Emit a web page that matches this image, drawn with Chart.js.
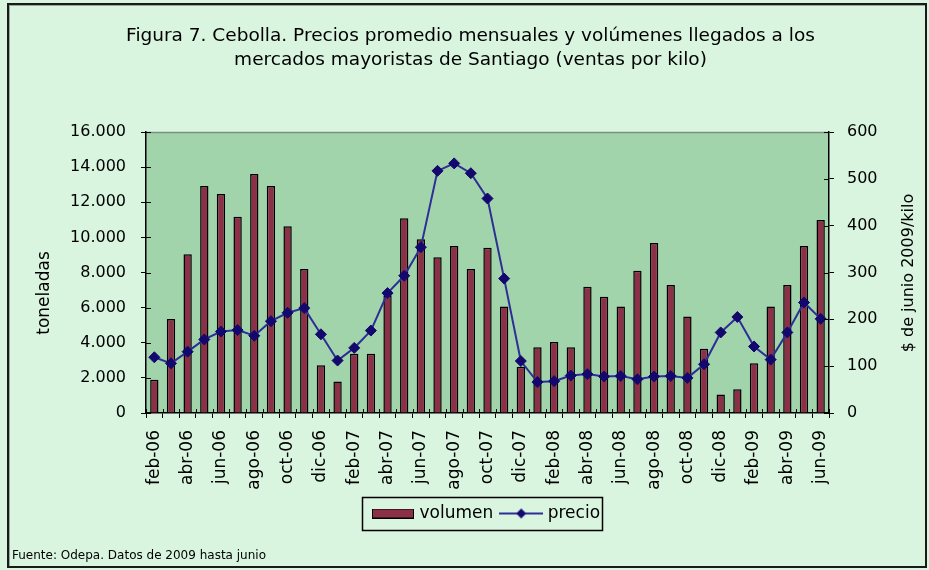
<!DOCTYPE html>
<html>
<head>
<meta charset="utf-8">
<script src="https://cdn.jsdelivr.net/npm/chart.js@4/dist/chart.umd.min.js"></script>
<style>
html,body{margin:0;padding:0;background:#D9F5DF;}
#wrap{width:929px;height:570px;position:relative;}
</style>
</head>
<body>
<div id="wrap"><canvas id="c" width="929" height="570"></canvas></div>
<script>
// ---- data ----
const months = ['feb-06','mar-06','abr-06','may-06','jun-06','jul-06','ago-06','sep-06','oct-06','nov-06','dic-06',
  'ene-07','feb-07','mar-07','abr-07','may-07','jun-07','jul-07','ago-07','sep-07','oct-07','nov-07','dic-07',
  'ene-08','feb-08','mar-08','abr-08','may-08','jun-08','jul-08','ago-08','sep-08','oct-08','nov-08','dic-08',
  'ene-09','feb-09','mar-09','abr-09','may-09','jun-09'];
const volumen = [1900, 5350, 9040, 12930, 12470, 11180, 13610, 12930, 10630, 8200, 2720,
  1800, 3380, 3380, 6700, 11090, 9890, 8870, 9510, 8200, 9410, 6070, 2640,
  3740, 4040, 3740, 7190, 6620, 6070, 8100, 9680, 7290, 5500, 3660, 1060,
  1350, 2830, 6070, 7290, 9510, 10990];
const precio = [119, 106, 131, 157, 174, 177, 165, 196, 214, 224, 168,
  112, 139, 176, 256, 293, 354, 517, 533, 512, 458, 287, 111,
  66, 68, 80, 83, 78, 79, 72, 78, 79, 75, 104, 172,
  205, 142, 114, 172, 236, 201];
const seriesNames = ['volumen', 'precio'];
const titleLines = ['Figura 7. Cebolla. Precios promedio mensuales y volúmenes llegados a los',
  'mercados mayoristas de Santiago (ventas por kilo)'];
const leftTitle = 'toneladas';
const rightTitle = '$ de junio 2009/kilo';
const footer = 'Fuente: Odepa. Datos de 2009 hasta junio';

// ---- styles ----
const BG = '#D9F5DF';
const PLOT = '#A1D4AA';
const BAR = '#8B3046';
const LINE = '#2E2E96';
const MARK = '#14086E';
const FONT = 'DejaVu Sans';

function fmt(v){ return String(v).replace(/\B(?=(\d{3})+(?!\d))/g, '.'); }

function barSample(){
  const c = document.createElement('canvas'); c.width = 42; c.height = 10;
  const x = c.getContext('2d');
  x.fillStyle = BAR; x.fillRect(0.5, 0.5, 41, 9);
  x.strokeStyle = '#000'; x.lineWidth = 1; x.strokeRect(0.5, 0.5, 41, 9);
  return c;
}
function lineSample(){
  const c = document.createElement('canvas'); c.width = 44; c.height = 12;
  const x = c.getContext('2d');
  x.strokeStyle = LINE; x.lineWidth = 2;
  x.beginPath(); x.moveTo(0, 6); x.lineTo(44, 6); x.stroke();
  x.fillStyle = MARK; x.beginPath();
  x.moveTo(22, 1); x.lineTo(27, 6); x.lineTo(22, 11); x.lineTo(17, 6); x.closePath(); x.fill();
  return c;
}
const imgBar = barSample();
const imgLine = lineSample();

const decor = {
  id: 'decor',
  beforeDraw(chart){
    const {ctx, chartArea: a} = chart;
    ctx.save();
    ctx.fillStyle = BG; ctx.fillRect(0, 0, chart.width, chart.height);
    ctx.fillStyle = PLOT; ctx.fillRect(a.left, a.top, a.right - a.left, a.bottom - a.top);
    ctx.strokeStyle = '#7d8f80'; ctx.lineWidth = 1.5;
    ctx.beginPath(); ctx.moveTo(a.left, a.top + 0.5); ctx.lineTo(a.right, a.top + 0.5); ctx.stroke();
    ctx.restore();
  },
  afterLayout(chart){
    const lg = chart.legend, a = chart.chartArea;
    if (!lg) return;
    const d = (a.left + a.right) / 2 - (lg.left + lg.right) / 2;
    lg.left += d; lg.right += d;
  },
  afterDraw(chart){
    const {ctx, chartArea: a} = chart;
    const xs = chart.scales.x, yl = chart.scales.y, yr = chart.scales.y1;
    ctx.save();
    // inner halves of tick marks (ticks cross the axes)
    ctx.strokeStyle = '#000'; ctx.lineWidth = 1;
    ctx.beginPath();
    yl.ticks.forEach(t => { const y = Math.round(yl.getPixelForValue(t.value)) + 0.5; ctx.moveTo(a.left, y); ctx.lineTo(a.left + 5, y); });
    yr.ticks.forEach(t => { const y = Math.round(yr.getPixelForValue(t.value)) + 0.5; ctx.moveTo(a.right - 5, y); ctx.lineTo(a.right, y); });
    for (let i = 0; i <= months.length; i++) {
      const x = Math.round(xs.getPixelForValue(i - 0.5)) + 0.5;
      ctx.moveTo(x, a.bottom - 4); ctx.lineTo(x, a.bottom);
    }
    ctx.stroke();
    // axis titles
    ctx.fillStyle = '#000'; ctx.textAlign = 'center'; ctx.textBaseline = 'middle';
    ctx.font = '17px "' + FONT + '"';
    ctx.save(); ctx.translate(45, 293); ctx.rotate(-Math.PI / 2); ctx.fillText(leftTitle, 0, 0); ctx.restore();
    ctx.font = '16px "' + FONT + '"';
    ctx.save(); ctx.translate(909, 273); ctx.rotate(-Math.PI / 2); ctx.fillText(rightTitle, 0, 0); ctx.restore();
    // legend frame
    const hb = chart.legend && chart.legend.legendHitBoxes;
    if (hb && hb.length) {
      const l = Math.min(...hb.map(h => h.left)) - 13;
      const r = Math.max(...hb.map(h => h.left + h.width)) + 2;
      const cy = hb[0].top + hb[0].height / 2;
      ctx.strokeStyle = '#000'; ctx.lineWidth = 1.5;
      ctx.strokeRect(Math.round(l) + 0.5, Math.round(cy - 16.5) + 0.5, Math.round(r - l), 33);
    }
    // outer frame
    ctx.strokeStyle = '#9aa79c'; ctx.lineWidth = 1;
    ctx.strokeRect(9.5, 5.5, 916, 561);
    ctx.strokeStyle = '#1a1a1a'; ctx.lineWidth = 2;
    ctx.strokeRect(8, 4, 918, 563);
    ctx.restore();
  }
};

new Chart(document.getElementById('c'), {
  type: 'bar',
  data: {
    labels: months,
    datasets: [
      {
        type: 'line', label: seriesNames[1], data: precio, yAxisID: 'y1', order: 0,
        borderColor: LINE, borderWidth: 2, tension: 0, fill: false,
        pointStyle: 'rectRot', pointRadius: 5.5, pointHoverRadius: 5.5,
        pointBackgroundColor: MARK, pointBorderColor: MARK, pointBorderWidth: 1
      },
      {
        type: 'bar', label: seriesNames[0], data: volumen, yAxisID: 'y', order: 1,
        backgroundColor: BAR, borderColor: '#000', borderWidth: 1.5,
        barPercentage: 0.5, categoryPercentage: 1.0
      }
    ]
  },
  options: {
    responsive: false,
    animation: false,
    devicePixelRatio: 1,
    layout: { padding: { left: 12, right: 0, top: 0, bottom: 0 } },
    plugins: {
      tooltip: { enabled: false },
      title: {
        display: true, text: titleLines, color: '#000',
        font: { family: FONT, size: 18.5, weight: 'normal', lineHeight: '24px' },
        padding: { top: 24, bottom: 60 }
      },
      subtitle: {
        display: true, text: footer, position: 'bottom', align: 'start', color: '#000',
        font: { family: FONT, size: 12, weight: 'normal', lineHeight: '14.4px' },
        padding: { top: 16.8, bottom: 6.8 }
      },
      legend: {
        display: true, position: 'bottom', align: 'center',
        labels: {
          usePointStyle: true, pointStyleWidth: 36, padding: 10, color: '#000',
          font: { family: FONT, size: 17 },
          generateLabels: () => [
            { text: seriesNames[0], pointStyle: imgBar, fillStyle: BAR, strokeStyle: '#000', lineWidth: 0, fontColor: '#000', hidden: false, datasetIndex: 1 },
            { text: seriesNames[1], pointStyle: imgLine, fillStyle: MARK, strokeStyle: LINE, lineWidth: 0, fontColor: '#000', hidden: false, datasetIndex: 0 }
          ]
        }
      }
    },
    scales: {
      x: {
        offset: true,
        grid: { display: true, drawOnChartArea: false, drawTicks: true, tickLength: 5, color: '#000', offset: true },
        border: { display: true, color: '#000', width: 1.5 },
        ticks: {
          autoSkip: false, maxRotation: 90, minRotation: 90, padding: 12, color: '#000',
          font: { family: FONT, size: 17 },
          callback: function(v, i){ return i % 2 === 0 ? this.getLabelForValue(v) : ''; }
        },
        afterFit(s){ s.height = 82; }
      },
      y: {
        position: 'left', min: 0, max: 16000,
        grid: { display: true, drawOnChartArea: false, drawTicks: true, tickLength: 5, color: '#000' },
        border: { display: true, color: '#000', width: 1.5 },
        ticks: { stepSize: 2000, padding: 15, color: '#000', font: { family: FONT, size: 16 }, callback: v => fmt(v) },
        afterFit(s){ s.width = 134; }
      },
      y1: {
        position: 'right', min: 0, max: 600,
        grid: { display: true, drawOnChartArea: false, drawTicks: true, tickLength: 5, color: '#000' },
        border: { display: true, color: '#000', width: 1.5 },
        ticks: { stepSize: 100, padding: 13, color: '#000', font: { family: FONT, size: 16 }, callback: v => fmt(v) },
        afterFit(s){ s.width = 100; }
      }
    }
  },
  plugins: [decor]
});
</script>
</body>
</html>
